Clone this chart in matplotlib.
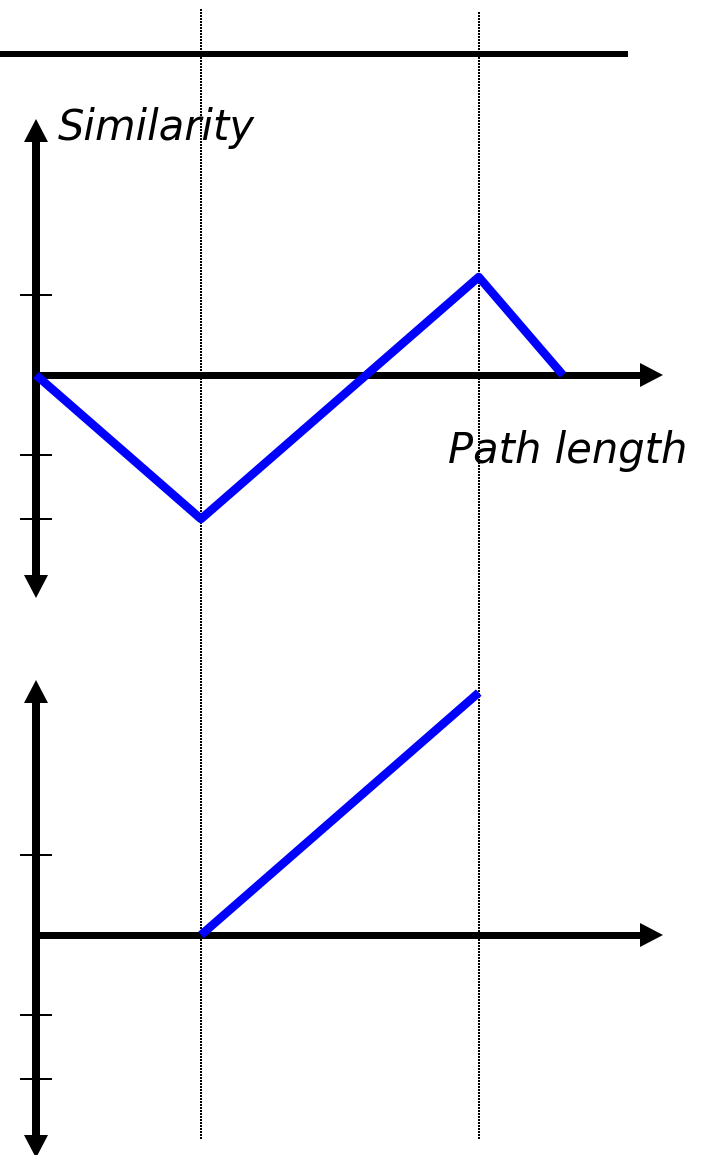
import matplotlib
matplotlib.use("Agg")
import matplotlib.pyplot as plt

# ---------------- data ----------------
path_length = [0, 3, 8.05, 9.58]          # top panel x values
similarity = [0, -1.8, 1.225, 0]          # top panel similarity
cum_path_length = [3, 8.05]               # bottom panel x values
cum_similarity = [0, 3.03]                # bottom panel values
y_ticks = [1, -1, -1.8]                   # tick marks on both vertical axes
markers_x = [3, 8.05]                     # dotted vertical guide lines
x_label = "Path length"
y_label = "Similarity"

# ---------------- layout (pixels) ----------------
W, H, DPI = 708, 1155, 100
X0_PX, PX_PER_X = 36, 55.0
PX_PER_Y = 80.0
TOP_Y0_PX, BOT_Y0_PX = 375, 935
PT = 0.72  # points per pixel at 100 dpi

plt.rcParams['lines.scale_dashes'] = False
fig = plt.figure(figsize=(W / DPI, H / DPI), dpi=DPI)


def make_axes(y0_px):
    ax = fig.add_axes([0, 0, 1, 1], facecolor='none')
    ax.set_xlim(-X0_PX / PX_PER_X, (W - X0_PX) / PX_PER_X)
    ax.set_ylim((y0_px - H) / PX_PER_Y, y0_px / PX_PER_Y)
    ax.axis('off')
    return ax


def px_x(px):
    return (px - X0_PX) / PX_PER_X


def px_y(py, y0_px):
    return (y0_px - py) / PX_PER_Y


ax_top = make_axes(TOP_Y0_PX)
ax_bot = make_axes(BOT_Y0_PX)

AX_LW = 8 * PT
HEAD_LEN = 23 * PT
HEAD_HALF = 12 * PT


def head(ax, tip, base):
    ax.annotate('', xy=tip, xytext=base, annotation_clip=False,
                arrowprops=dict(arrowstyle=f'-|>,head_length={HEAD_LEN},head_width={HEAD_HALF}',
                                mutation_scale=1, lw=0, fc='black', ec='none',
                                shrinkA=0, shrinkB=0))


def draw_axes(ax, y0_px, top_tip_px, bot_tip_px, right_tip_px=663):
    # vertical axis
    yt = px_y(top_tip_px, y0_px)
    yb = px_y(bot_tip_px, y0_px)
    yt_base = px_y(top_tip_px + 22, y0_px)
    yb_base = px_y(bot_tip_px - 22, y0_px)
    ax.plot([0, 0], [yb_base, yt_base], color='black', lw=AX_LW,
            solid_capstyle='butt', clip_on=False)
    head(ax, (0, yt), (0, 0))
    head(ax, (0, yb), (0, 0))
    # horizontal axis
    xr = px_x(right_tip_px)
    xr_base = px_x(right_tip_px - 22)
    ax.plot([px_x(X0_PX - 4), xr_base], [0, 0], color='black', lw=7 * PT,
            solid_capstyle='butt')
    head(ax, (xr, 0), (0, 0))
    # ticks
    ax.hlines(y_ticks, px_x(20), px_x(52), color='black', lw=2 * PT)


# top rule line
ax_top.plot([px_x(0), px_x(628)], [px_y(54, TOP_Y0_PX)] * 2, color='black',
            lw=6 * PT, solid_capstyle='butt')

# dotted guide lines spanning both panels
for xm, start_px in zip(markers_x, [9, 12]):
    ax_top.plot([xm, xm], [px_y(start_px, TOP_Y0_PX), px_y(1140, TOP_Y0_PX)],
                color='black', lw=1.6 * PT, dashes=(1.6 * PT, 1.4 * PT),
                solid_capstyle='butt', antialiased=False)

draw_axes(ax_top, TOP_Y0_PX, 119, 598)
draw_axes(ax_bot, BOT_Y0_PX, 680, 1158)

# data lines
ax_top.plot(path_length, similarity, color='#0000ff', lw=8.5 * PT,
            solid_joinstyle='round', solid_capstyle='butt')
ax_bot.plot(cum_path_length, cum_similarity, color='#0000ff', lw=8.5 * PT,
            solid_joinstyle='round', solid_capstyle='butt')

# labels
ax_top.text(px_x(58), px_y(140, TOP_Y0_PX), y_label, fontsize=30, style='italic',
            family='DejaVu Sans', ha='left', va='baseline')
ax_top.text(px_x(448), px_y(463, TOP_Y0_PX), x_label, fontsize=30, style='italic',
            family='DejaVu Sans', ha='left', va='baseline')

fig.savefig('out.png', dpi=DPI)
